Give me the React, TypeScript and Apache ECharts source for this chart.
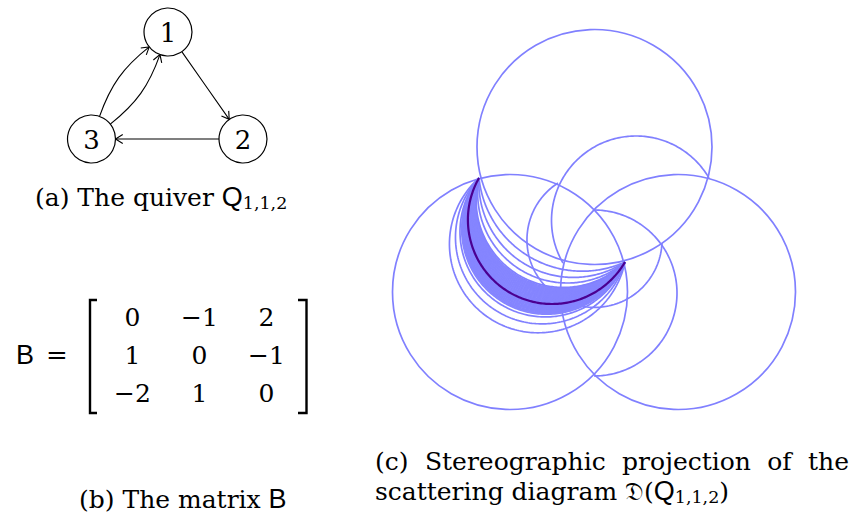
import React, { useEffect, useRef } from "react";
import * as echarts from "echarts";

const W = 863;
const H = 516;

// ---------- (a) quiver ----------
const quiverNodes = [
  { name: "1", x: 168, y: 32 },
  { name: "2", x: 243, y: 139 },
  { name: "3", x: 91.5, y: 139 },
];
// [from index, to index, bend in degrees]
const quiverArrows = [
  [0, 1, 0],
  [1, 2, 0],
  [2, 0, 16],
  [2, 0, -16],
];
const nodeRadius = 24;

// ---------- (b) matrix ----------
const matrixB = [
  [0, -1, 2],
  [1, 0, -1],
  [-2, 1, 0],
];
const matrixCols = ["c1", "c2", "c3"];
const matrixRows = ["r1", "r2", "r3"];

// ---------- (c) stereographic projection (picture units) ----------
// full circles: [cx, cy, r]
const fullCircles = [
  [594.5, 147, 117.5],
  [510, 292, 117.5],
  [678, 292, 117.5],
];
// wall arcs given by start point, a point on the arc, end point
const wallArcs = [
  [709, 178, 637, 136, 563, 263],
  [594, 210, 677, 293, 594, 376],
  [558, 183, 527, 242, 662, 243],
];
// crescent: arcs from A to B, passing through (crescentViaX, y)
const crescentA = [479, 178];
const crescentB = [625, 262];
const crescentViaX = 552;
const crescentInner = [266.7, 275, 281.7, 286.7];
const crescentDense = [288, 289, 290, 291, 292, 293, 294, 295, 296, 297, 298, 299, 300, 301, 302, 303, 305, 306, 307, 308, 309, 310, 311, 312, 313, 314];
const crescentOuter = [316.7, 323.3, 331.7];
const limitWall = [304];

const BLUE = "#8080ff";
const PURPLE = "#4b0091";
const SERIF = "'DejaVu Serif', serif";
const SANS = "'Liberation Sans', 'DejaVu Sans', sans-serif";
const FRAK = "'DejaVu Sans', 'DejaVu Serif', 'Noto Sans', serif";

function arcPoints(p1: number[], p2: number[], p3: number[], n = 160) {
  const [ax, ay] = p1;
  const [bx, by] = p2;
  const [cx, cy] = p3;
  const d = 2 * (ax * (by - cy) + bx * (cy - ay) + cx * (ay - by));
  const ux = ((ax * ax + ay * ay) * (by - cy) + (bx * bx + by * by) * (cy - ay) + (cx * cx + cy * cy) * (ay - by)) / d;
  const uy = ((ax * ax + ay * ay) * (cx - bx) + (bx * bx + by * by) * (ax - cx) + (cx * cx + cy * cy) * (bx - ax)) / d;
  const r = Math.hypot(ax - ux, ay - uy);
  const T = Math.PI * 2;
  const norm = (a: number) => ((a % T) + T) % T;
  const a1 = Math.atan2(ay - uy, ax - ux);
  const a2 = Math.atan2(by - uy, bx - ux);
  const a3 = Math.atan2(cy - uy, cx - ux);
  const d13 = norm(a3 - a1);
  const d12 = norm(a2 - a1);
  const sweep = d12 < d13 ? d13 : d13 - T;
  const pts: number[][] = [];
  for (let i = 0; i <= n; i++) {
    const a = a1 + (sweep * i) / n;
    pts.push([ux + r * Math.cos(a), uy + r * Math.sin(a)]);
  }
  return pts;
}

function crescentSeries(name: string, values: number[], color: string, lw: number) {
  return {
    type: "custom",
    name,
    xAxisIndex: 0,
    yAxisIndex: 0,
    silent: true,
    data: values.map((y) => [crescentViaX, y]),
    renderItem: (_p: any, api: any) => {
      const a = api.coord(crescentA);
      const m = api.coord([api.value(0), api.value(1)]);
      const b = api.coord(crescentB);
      return {
        type: "polyline",
        shape: { points: arcPoints(a, m, b) },
        style: { stroke: color, fill: "none", lineWidth: lw },
      };
    },
  };
}

const ctx = typeof document !== "undefined" ? document.createElement("canvas").getContext("2d") : null;
function measure(t: string, size: number, family: string) {
  if (!ctx) return t.length * size * 0.55;
  ctx.font = `${size}px ${family}`;
  return ctx.measureText(t).width;
}

function text(t: string, x: number, y: number, size: number, family = SERIF) {
  return {
    type: "text",
    x,
    y,
    silent: true,
    style: { text: t, fontSize: size, fontFamily: family, fill: "#000", align: "left", verticalAlign: "middle" },
  };
}

type Run = { t: string; size: number; family?: string; dy?: number };
function runs(x0: number, y: number, parts: Run[]) {
  let x = x0;
  const out: any[] = [];
  for (const p of parts) {
    const fam = p.family || SERIF;
    out.push(text(p.t, x, y + (p.dy || 0), p.size, fam));
    x += measure(p.t, p.size, fam);
  }
  return out;
}

function justified(words: string[], x0: number, x1: number, y: number, size: number) {
  const widths = words.map((w) => measure(w, size, SERIF));
  const total = widths.reduce((a, b) => a + b, 0);
  const gap = (x1 - x0 - total) / (words.length - 1);
  let x = x0;
  return words.map((w, i) => {
    const el = text(w, x, y, size);
    x += widths[i] + gap;
    return el;
  });
}

const CAP = 25;

export default function App() {
  const ref = useRef<HTMLDivElement>(null);
  useEffect(() => {
    const chart = echarts.init(ref.current!, null, { renderer: "svg" });
    const option: any = {
      animation: false,
      backgroundColor: "#fff",
      grid: [
        { left: 0, top: 0, width: W, height: H, show: false },
        { left: 99, top: 298, width: 201, height: 114, show: false },
      ],
      xAxis: [
        { gridIndex: 0, type: "value", min: 0, max: W, show: false },
        { gridIndex: 1, type: "category", data: matrixCols, show: false },
      ],
      yAxis: [
        { gridIndex: 0, type: "value", min: 0, max: H, inverse: true, show: false },
        { gridIndex: 1, type: "category", data: matrixRows, inverse: true, show: false },
      ],
      series: [
        {
          type: "custom",
          name: "coordinate walls",
          xAxisIndex: 0,
          yAxisIndex: 0,
          silent: true,
          data: fullCircles,
          renderItem: (_p: any, api: any) => {
            const c = api.coord([api.value(0), api.value(1)]);
            const r = api.size([api.value(2), 0])[0];
            return { type: "circle", shape: { cx: c[0], cy: c[1], r }, style: { stroke: BLUE, fill: "none", lineWidth: 1.7 } };
          },
        },
        {
          type: "custom",
          name: "walls",
          xAxisIndex: 0,
          yAxisIndex: 0,
          silent: true,
          data: wallArcs,
          renderItem: (_p: any, api: any) => {
            const p1 = api.coord([api.value(0), api.value(1)]);
            const p2 = api.coord([api.value(2), api.value(3)]);
            const p3 = api.coord([api.value(4), api.value(5)]);
            return { type: "polyline", shape: { points: arcPoints(p1, p2, p3) }, style: { stroke: BLUE, fill: "none", lineWidth: 1.7 } };
          },
        },
        crescentSeries("dense walls", crescentDense, "#8585ff", 1.8),
        crescentSeries("inner walls", crescentInner, BLUE, 1.7),
        crescentSeries("outer walls", crescentOuter, BLUE, 1.7),
        crescentSeries("limit wall", limitWall, PURPLE, 2.2),
        {
          type: "custom",
          name: "arrows",
          xAxisIndex: 0,
          yAxisIndex: 0,
          silent: true,
          data: quiverArrows,
          renderItem: (_p: any, api: any) => {
            const f = quiverNodes[api.value(0)];
            const t = quiverNodes[api.value(1)];
            const b = (api.value(2) * Math.PI) / 180;
            const P = api.coord([f.x, f.y]);
            const Q = api.coord([t.x, t.y]);
            const rr = api.size([nodeRadius, 0])[0];
            const dir = Math.atan2(Q[1] - P[1], Q[0] - P[0]);
            const outA = dir - b;
            const inA = dir + Math.PI + b;
            const s = [P[0] + rr * Math.cos(outA), P[1] + rr * Math.sin(outA)];
            const e = [Q[0] + rr * Math.cos(inA), Q[1] + rr * Math.sin(inA)];
            const L = Math.hypot(e[0] - s[0], e[1] - s[1]) * 0.3915;
            const c1 = [s[0] + L * Math.cos(outA), s[1] + L * Math.sin(outA)];
            const c2 = [e[0] + L * Math.cos(inA), e[1] + L * Math.sin(inA)];
            const ang = Math.atan2(e[1] - c2[1], e[0] - c2[0]);
            const h = 8.5;
            const w = 0.55;
            const q1 = [e[0] - h * Math.cos(ang - w), e[1] - h * Math.sin(ang - w)];
            const q2 = [e[0] - h * Math.cos(ang + w), e[1] - h * Math.sin(ang + w)];
            return {
              type: "group",
              children: [
                {
                  type: "bezierCurve",
                  shape: { x1: s[0], y1: s[1], x2: e[0], y2: e[1], cpx1: c1[0], cpy1: c1[1], cpx2: c2[0], cpy2: c2[1] },
                  style: { stroke: "#000", fill: "none", lineWidth: 1.1 },
                },
                { type: "polyline", shape: { points: [q1, e, q2] }, style: { stroke: "#000", fill: "none", lineWidth: 1.1 } },
              ],
            };
          },
        },
        {
          type: "custom",
          name: "vertices",
          xAxisIndex: 0,
          yAxisIndex: 0,
          silent: true,
          data: quiverNodes.map((n) => [n.x, n.y, n.name]),
          renderItem: (_p: any, api: any) => {
            const c = api.coord([api.value(0), api.value(1)]);
            const rr = api.size([nodeRadius, 0])[0];
            return {
              type: "group",
              children: [
                { type: "circle", shape: { cx: c[0], cy: c[1], r: rr }, style: { stroke: "#000", fill: "#fff", lineWidth: 1.2 } },
                {
                  type: "text",
                  x: c[0],
                  y: c[1] + 1,
                  style: { text: String(api.value(2)), fontSize: 26, fontFamily: SERIF, fill: "#000", align: "center", verticalAlign: "middle" },
                },
              ],
            };
          },
        },
        {
          type: "custom",
          name: "matrix",
          xAxisIndex: 1,
          yAxisIndex: 1,
          silent: true,
          data: matrixB.flatMap((row, r) => row.map((v, c) => [c, r, v])),
          renderItem: (_p: any, api: any) => {
            const c = api.coord([api.value(0), api.value(1)]);
            const v = api.value(2);
            return {
              type: "text",
              x: c[0],
              y: c[1],
              style: { text: v < 0 ? "\u2212" + Math.abs(v) : String(v), fontSize: 25, fontFamily: SERIF, fill: "#000", align: "center", verticalAlign: "middle" },
            };
          },
        },
      ],
      graphic: [
        ...runs(35, 197, [
          { t: "(a) The quiver ", size: CAP },
          { t: "Q", size: 27, family: SANS },
          { t: "1,1,2", size: 17.5, dy: 6 },
        ]),
        text("B", 16, 355, 27, SANS),
        text("=", 46, 355, 26, SERIF),
        {
          type: "polyline",
          silent: true,
          shape: { points: [[97, 300], [90, 300], [90, 413], [97, 413]] },
          style: { stroke: "#000", fill: "none", lineWidth: 2.4 },
        },
        {
          type: "polyline",
          silent: true,
          shape: { points: [[298, 300], [306.5, 300], [306.5, 413], [298, 413]] },
          style: { stroke: "#000", fill: "none", lineWidth: 2.4 },
        },
        ...runs(79, 499, [
          { t: "(b) The matrix ", size: CAP },
          { t: "B", size: 27, family: SANS },
        ]),
        ...justified(["(c)", "Stereographic", "projection", "of", "the"], 375, 849, 461, CAP),
        ...runs(375, 491, [
          { t: "scattering diagram ", size: CAP },
          { t: "\u{1D507}", size: CAP, family: FRAK },
          { t: "(", size: CAP },
          { t: "Q", size: 27, family: SANS },
          { t: "1,1,2", size: 17.5, dy: 6 },
          { t: ")", size: CAP },
        ]),
      ],
    };
    chart.setOption(option);
    return () => chart.dispose();
  }, []);
  return <div ref={ref} style={{ position: "absolute", left: 0, top: 0, width: W, height: H, background: "#fff" }} />;
}
